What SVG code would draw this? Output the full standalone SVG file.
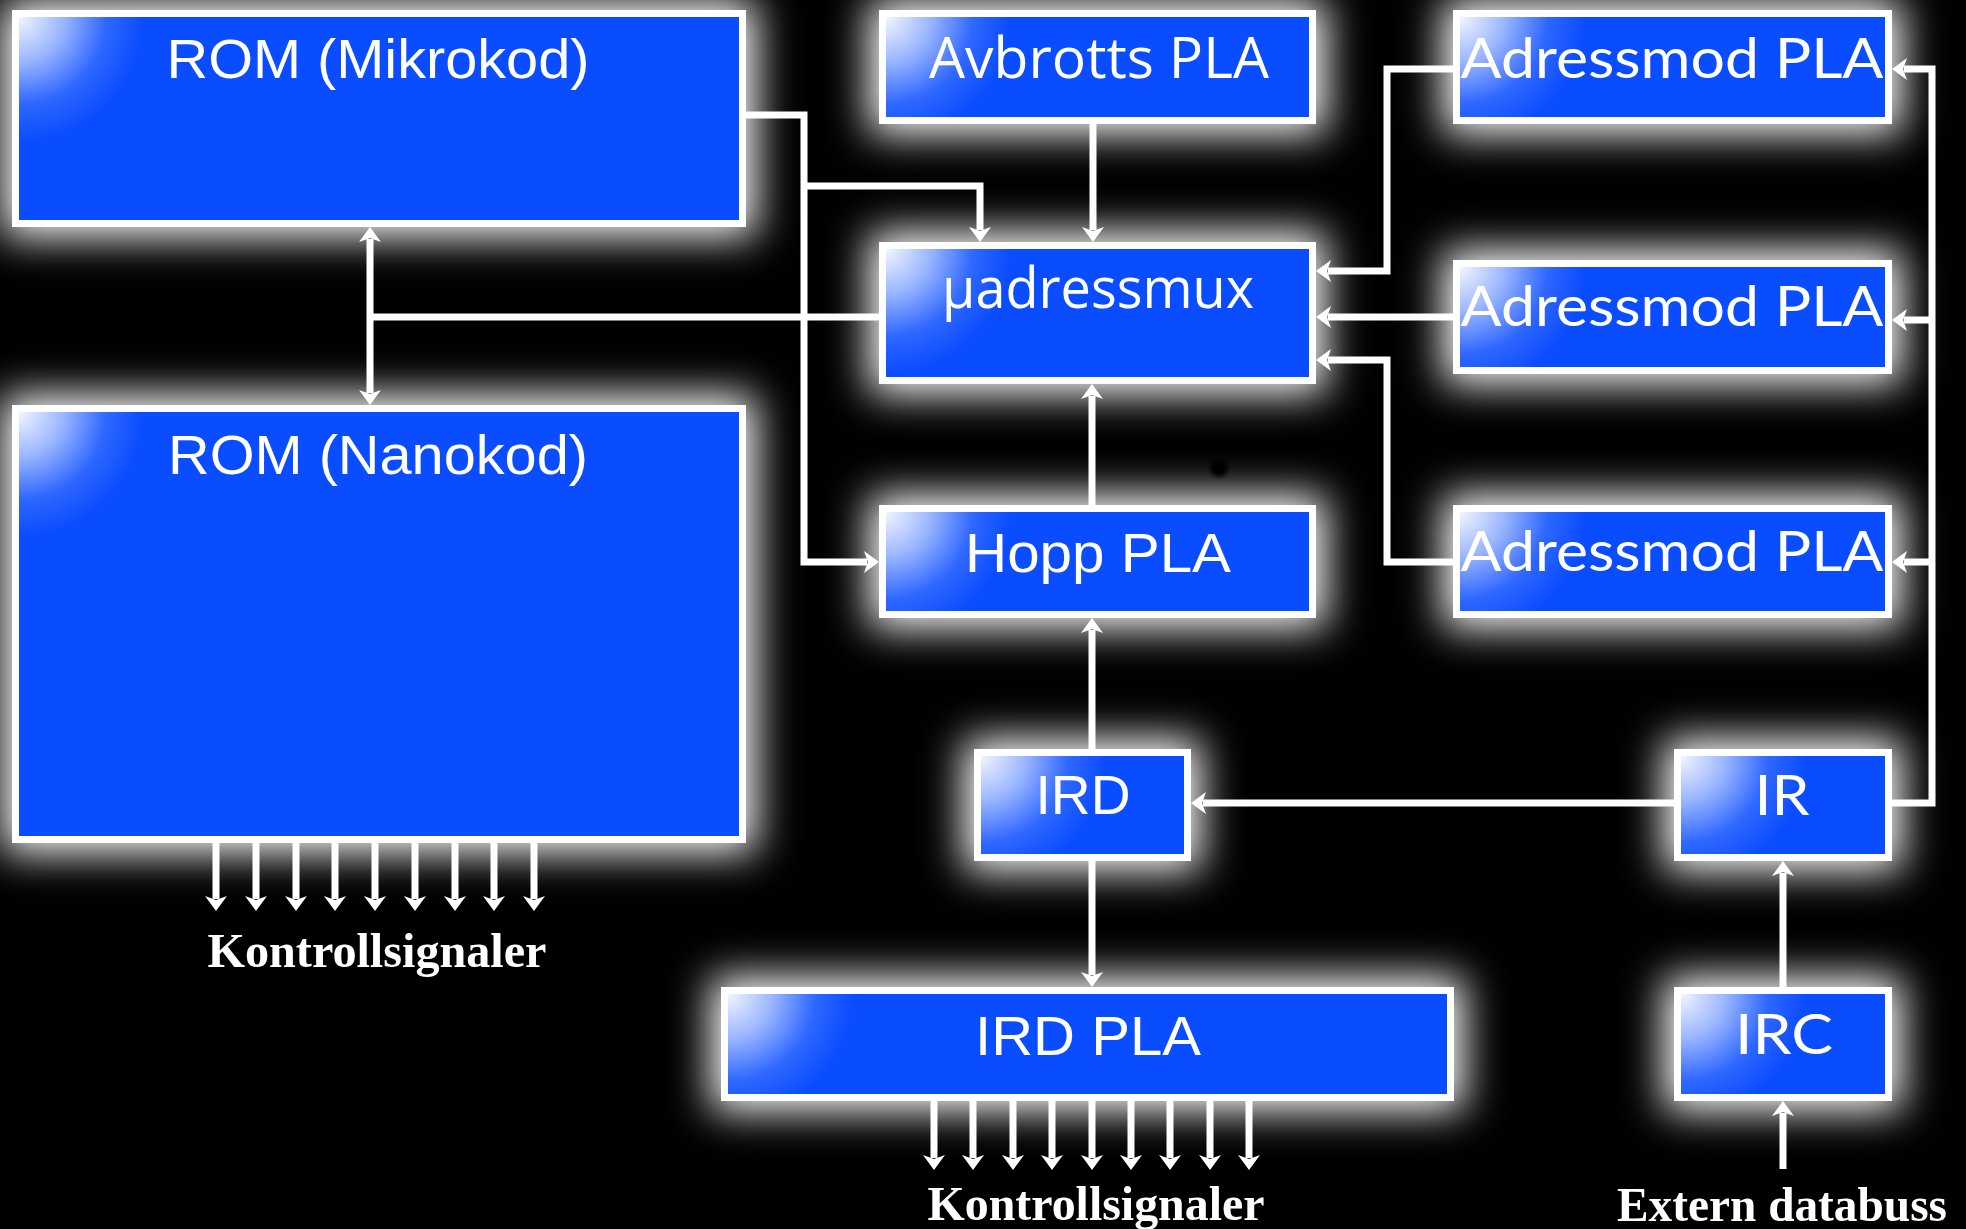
<svg xmlns="http://www.w3.org/2000/svg" width="1966" height="1229" viewBox="0 0 1966 1229">
<defs>
<style>
.glow{fill:#ffffff;filter:url(#blur)}
.box{fill:#0a4cff;stroke:#ffffff;stroke-width:7}
.gloss{fill:url(#gloss)}
.lbl{fill:#ffffff;font-size:56px;text-anchor:middle}
.cond{font-family:"Liberation Sans",Arial,sans-serif}
.hum{font-family:"Open Sans","Noto Sans",sans-serif}
.geo{font-family:Lato,"Open Sans",sans-serif}
.cap{fill:#ffffff;font-family:"Liberation Serif","Times New Roman",serif;font-weight:bold;font-size:49px;text-anchor:middle}
.wire{fill:none;stroke:#ffffff;stroke-width:7;stroke-linejoin:miter}
.arr{marker-end:url(#ah)}
.bi{marker-start:url(#ah);marker-end:url(#ah)}
</style>
<filter id="blur" x="-50%" y="-100%" width="200%" height="300%">
<feGaussianBlur stdDeviation="21"/>
</filter>
<filter id="dotblur" x="-100%" y="-100%" width="300%" height="300%">
<feGaussianBlur stdDeviation="2"/>
</filter>
<radialGradient id="gloss" gradientUnits="userSpaceOnUse" cx="7" cy="7" r="125">
<stop offset="0" stop-color="#ffffff" stop-opacity="0.95"/>
<stop offset="0.35" stop-color="#ffffff" stop-opacity="0.6"/>
<stop offset="0.7" stop-color="#ffffff" stop-opacity="0.15"/>
<stop offset="1" stop-color="#ffffff" stop-opacity="0"/>
</radialGradient>
<marker id="ah" viewBox="0 0 15 22" refX="3" refY="11" markerWidth="15" markerHeight="22" markerUnits="userSpaceOnUse" orient="auto-start-reverse">
<path d="M0,0 L15,11 L0,22 L4,11 Z" fill="#ffffff"/>
</marker>
</defs>
<rect x="0" y="0" width="1966" height="1229" fill="#000000"/>

<g id="rom-mikrokod" transform="translate(12,10)">
<rect class="glow" x="-10" y="-10" width="754" height="237"/>
<rect class="box" x="3.5" y="3.5" width="727" height="210"/>
<rect class="gloss" x="7" y="7" width="720" height="203"/>
<text class="lbl cond" x="366" y="68" textLength="423" lengthAdjust="spacingAndGlyphs">ROM (Mikrokod)</text>
</g>

<g id="rom-nanokod" transform="translate(12,405)">
<rect class="glow" x="-10" y="-10" width="754" height="458"/>
<rect class="box" x="3.5" y="3.5" width="727" height="431"/>
<rect class="gloss" x="7" y="7" width="720" height="424"/>
<text class="lbl cond" x="366" y="69" textLength="420" lengthAdjust="spacingAndGlyphs">ROM (Nanokod)</text>
</g>

<g id="avbrotts-pla" transform="translate(879,10)">
<rect class="glow" x="-10" y="-10" width="457" height="134"/>
<rect class="box" x="3.5" y="3.5" width="430" height="107"/>
<rect class="gloss" x="7" y="7" width="423" height="100"/>
<text class="lbl hum" x="220" y="68" textLength="340" lengthAdjust="spacingAndGlyphs">Avbrotts PLA</text>
</g>

<g id="uadressmux" transform="translate(879,242)">
<rect class="glow" x="-10" y="-10" width="457" height="162"/>
<rect class="box" x="3.5" y="3.5" width="430" height="135"/>
<rect class="gloss" x="7" y="7" width="423" height="128"/>
<text class="lbl hum" x="219" y="66" textLength="312" lengthAdjust="spacingAndGlyphs">µadressmux</text>
</g>

<g id="hopp-pla" transform="translate(879,505)">
<rect class="glow" x="-10" y="-10" width="457" height="133"/>
<rect class="box" x="3.5" y="3.5" width="430" height="106"/>
<rect class="gloss" x="7" y="7" width="423" height="99"/>
<text class="lbl cond" x="219" y="67" textLength="266" lengthAdjust="spacingAndGlyphs">Hopp PLA</text>
</g>

<g id="adressmod-pla-1" transform="translate(1453,10)">
<rect class="glow" x="-10" y="-10" width="459" height="134"/>
<rect class="box" x="3.5" y="3.5" width="432" height="107"/>
<rect class="gloss" x="7" y="7" width="425" height="100"/>
<text class="lbl geo" x="219" y="68" textLength="423" lengthAdjust="spacingAndGlyphs">Adressmod PLA</text>
</g>

<g id="adressmod-pla-2" transform="translate(1453,260)">
<rect class="glow" x="-10" y="-10" width="459" height="134"/>
<rect class="box" x="3.5" y="3.5" width="432" height="107"/>
<rect class="gloss" x="7" y="7" width="425" height="100"/>
<text class="lbl geo" x="219" y="66" textLength="423" lengthAdjust="spacingAndGlyphs">Adressmod PLA</text>
</g>

<g id="adressmod-pla-3" transform="translate(1453,505)">
<rect class="glow" x="-10" y="-10" width="459" height="133"/>
<rect class="box" x="3.5" y="3.5" width="432" height="106"/>
<rect class="gloss" x="7" y="7" width="425" height="99"/>
<text class="lbl geo" x="219" y="66" textLength="423" lengthAdjust="spacingAndGlyphs">Adressmod PLA</text>
</g>

<g id="ird" transform="translate(974,749)">
<rect class="glow" x="-10" y="-10" width="237" height="132"/>
<rect class="box" x="3.5" y="3.5" width="210" height="105"/>
<rect class="gloss" x="7" y="7" width="203" height="98"/>
<text class="lbl cond" x="109" y="65" textLength="95" lengthAdjust="spacingAndGlyphs">IRD</text>
</g>

<g id="ir" transform="translate(1674,749)">
<rect class="glow" x="-10" y="-10" width="238" height="132"/>
<rect class="box" x="3.5" y="3.5" width="211" height="105"/>
<rect class="gloss" x="7" y="7" width="204" height="98"/>
<text class="lbl geo" x="108" y="66" textLength="55" lengthAdjust="spacingAndGlyphs">IR</text>
</g>

<g id="ird-pla" transform="translate(721,987)">
<rect class="glow" x="-10" y="-10" width="753" height="134"/>
<rect class="box" x="3.5" y="3.5" width="726" height="107"/>
<rect class="gloss" x="7" y="7" width="719" height="100"/>
<text class="lbl cond" x="367" y="68" textLength="226" lengthAdjust="spacingAndGlyphs">IRD PLA</text>
</g>

<g id="irc" transform="translate(1674,987)">
<rect class="glow" x="-10" y="-10" width="238" height="134"/>
<rect class="box" x="3.5" y="3.5" width="211" height="107"/>
<rect class="gloss" x="7" y="7" width="204" height="100"/>
<text class="lbl geo" x="110" y="67" textLength="98" lengthAdjust="spacingAndGlyphs">IRC</text>
</g>

<circle cx="1219" cy="468" r="9" fill="#000000" filter="url(#dotblur)"/>

<g id="connectors">
<path class="wire arr" d="M746,115 H804 V562 H867"/>
<path class="wire arr" d="M804,186 H980 V230"/>
<path class="wire arr" d="M1093,124 V230"/>
<path class="wire" d="M879,317 H370"/>
<path class="wire bi" d="M370,239 V393"/>
<path class="wire arr" d="M1092,505 V396"/>
<path class="wire arr" d="M1092,749 V630"/>
<path class="wire arr" d="M1092,861 V975"/>
<path class="wire arr" d="M1674,803 H1203"/>
<path class="wire arr" d="M1892,803 H1932 V69 H1904"/>
<path class="wire arr" d="M1932,320 H1904"/>
<path class="wire arr" d="M1932,562 H1904"/>
<path class="wire arr" d="M1453,69 H1387 V271 H1328"/>
<path class="wire arr" d="M1453,317 H1328"/>
<path class="wire arr" d="M1453,562 H1387 V360 H1328"/>
<path class="wire arr" d="M1783,987 V873"/>
<path class="wire arr" d="M1783,1169 V1113"/>
<path class="wire arr" d="M216,843 V899"/>
<path class="wire arr" d="M256,843 V899"/>
<path class="wire arr" d="M296,843 V899"/>
<path class="wire arr" d="M335,843 V899"/>
<path class="wire arr" d="M375,843 V899"/>
<path class="wire arr" d="M415,843 V899"/>
<path class="wire arr" d="M455,843 V899"/>
<path class="wire arr" d="M494,843 V899"/>
<path class="wire arr" d="M534,843 V899"/>
<path class="wire arr" d="M934,1101 V1158"/>
<path class="wire arr" d="M973,1101 V1158"/>
<path class="wire arr" d="M1013,1101 V1158"/>
<path class="wire arr" d="M1052,1101 V1158"/>
<path class="wire arr" d="M1092,1101 V1158"/>
<path class="wire arr" d="M1131,1101 V1158"/>
<path class="wire arr" d="M1170,1101 V1158"/>
<path class="wire arr" d="M1210,1101 V1158"/>
<path class="wire arr" d="M1249,1101 V1158"/>
</g>

<text class="cap" x="377" y="967" textLength="339" lengthAdjust="spacingAndGlyphs">Kontrollsignaler</text>
<text class="cap" x="1096" y="1220" textLength="337" lengthAdjust="spacingAndGlyphs">Kontrollsignaler</text>
<text class="cap" x="1782" y="1221" textLength="330" lengthAdjust="spacingAndGlyphs">Extern databuss</text>
</svg>
